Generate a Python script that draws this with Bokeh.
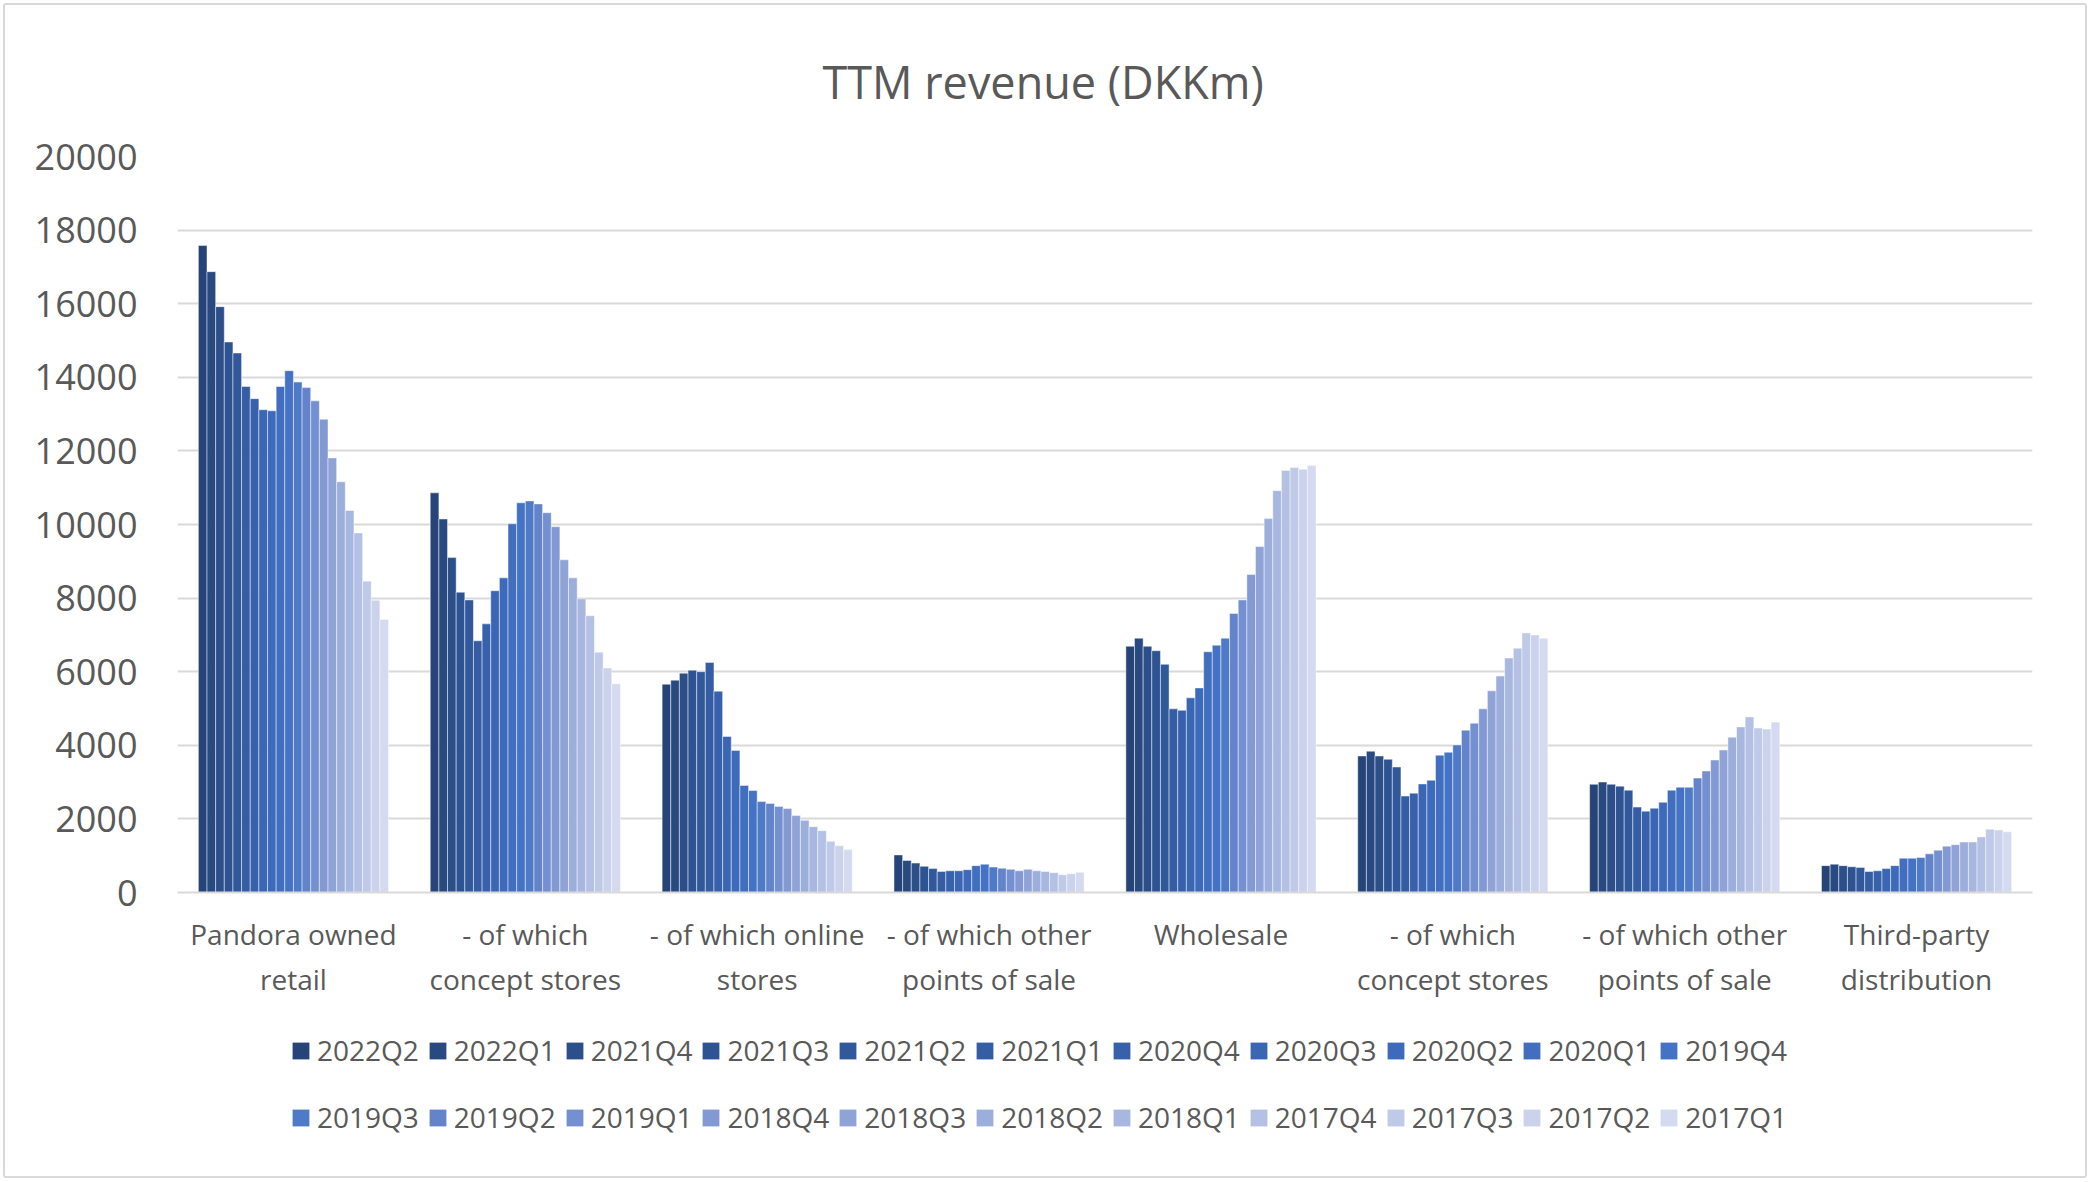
from bokeh.plotting import figure
from bokeh.models import Range1d, FixedTicker, Legend, LegendItem, ColumnDataSource, Title
from bokeh.layouts import column
from bokeh.embed import file_html
from bokeh.resources import INLINE

categories = ["Pandora owned\nretail", "- of which\nconcept stores", "- of which online\nstores",
              "- of which other\npoints of sale", "Wholesale", "- of which\nconcept stores",
              "- of which other\npoints of sale", "Third-party\ndistribution"]

series = ["2022Q2", "2022Q1", "2021Q4", "2021Q3", "2021Q2", "2021Q1", "2020Q4", "2020Q3",
          "2020Q2", "2020Q1", "2019Q4", "2019Q3", "2019Q2", "2019Q1", "2018Q4", "2018Q3",
          "2018Q2", "2018Q1", "2017Q4", "2017Q3", "2017Q2", "2017Q1"]

pandora_retail = [17580, 16870, 15920, 14960, 14660, 13750, 13420, 13120, 13090, 13750, 14180,
                  13870, 13720, 13360, 12860, 11810, 11160, 10380, 9770, 8460, 7940, 7420]
retail_concept = [10860, 10150, 9100, 8160, 7950, 6840, 7300, 8200, 8550, 10020, 10590,
                  10640, 10560, 10320, 9940, 9040, 8550, 7980, 7520, 6530, 6100, 5670]
retail_online = [5660, 5770, 5960, 6040, 6000, 6250, 5470, 4240, 3860, 2910, 2770,
                 2470, 2420, 2340, 2280, 2090, 1960, 1790, 1680, 1390, 1270, 1170]
retail_other = [1020, 870, 800, 710, 650, 570, 590, 590, 620, 730, 770,
                690, 660, 630, 590, 630, 590, 570, 540, 480, 510, 550]
wholesale = [6690, 6910, 6690, 6570, 6200, 4990, 4950, 5290, 5560, 6540, 6720,
             6910, 7580, 7950, 8640, 9400, 10160, 10920, 11470, 11550, 11500, 11600]
wholesale_concept = [3710, 3840, 3710, 3620, 3410, 2620, 2700, 2950, 3050, 3730, 3810,
                     4010, 4410, 4600, 4990, 5480, 5880, 6370, 6640, 7050, 7000, 6910]
wholesale_other = [2940, 3000, 2940, 2890, 2780, 2320, 2210, 2290, 2450, 2780, 2860,
                   2860, 3110, 3300, 3600, 3870, 4220, 4500, 4770, 4470, 4440, 4630]
third_party = [730, 770, 730, 700, 680, 570, 590, 650, 730, 930, 930,
               950, 1050, 1150, 1260, 1300, 1370, 1370, 1510, 1720, 1700, 1650]

y_ticks = [0, 2000, 4000, 6000, 8000, 10000, 12000, 14000, 16000, 18000, 20000]

colors = ["#264478", "#294A81", "#2C4F8A", "#2E5392", "#31589B", "#345DA3", "#3761AB",
          "#3A66B3", "#3D6ABB", "#416EBF", "#4472C4", "#4F7AC7", "#6384CB", "#7590D0",
          "#8299D3", "#8FA3D7", "#9CAEDC", "#A8B7E0", "#B4C0E4", "#BFC9E8", "#CAD2EC", "#D4DAF0"]

groups = [pandora_retail, retail_concept, retail_online, retail_other,
          wholesale, wholesale_concept, wholesale_other, third_party]

FONT = "Open Sans"
TXT = "#595959"
GRID = "#D9D9D9"

# ---- main chart ----
p = figure(width=2080, height=1005, output_backend="svg", toolbar_location=None,
           x_range=Range1d(0, len(categories)), y_range=Range1d(0, 20000),
           min_border_left=172, min_border_right=53, min_border_top=151, min_border_bottom=118)

p.title = Title(text="TTM revenue (DKKm)", align="left", offset=645, text_font=FONT,
                text_font_size="45px", text_font_style="normal", text_color=TXT,
                vertical_align="top", standoff=86)

n = len(series)
group_w = 0.82
bw = group_w / n
for j, s in enumerate(series):
    xs = [i + 0.5 + (j - (n - 1) / 2) * bw for i in range(len(categories))]
    ys = [g[j] for g in groups]
    src = ColumnDataSource(dict(x=xs, top=ys))
    p.vbar(x="x", top="top", width=bw, bottom=0, source=src, fill_color=colors[j],
           line_color="white", line_alpha=0.45, line_width=1)

p.xgrid.grid_line_color = None
p.ygrid.grid_line_color = GRID
p.ygrid.grid_line_width = 2
p.ygrid.ticker = FixedTicker(ticks=y_ticks)

p.yaxis.ticker = FixedTicker(ticks=y_ticks)
p.yaxis.axis_line_color = None
p.yaxis.major_tick_line_color = None
p.yaxis.minor_tick_line_color = None
p.yaxis.major_label_text_font = FONT
p.yaxis.major_label_text_font_size = "36px"
p.yaxis.major_label_text_color = TXT
p.yaxis.major_label_standoff = 34

p.xaxis.ticker = FixedTicker(ticks=[i + 0.5 for i in range(len(categories))])
p.xaxis.major_label_overrides = {i + 0.5: c for i, c in enumerate(categories)}
p.xaxis.axis_line_color = GRID
p.xaxis.axis_line_width = 2
p.xaxis.major_tick_line_color = None
p.xaxis.minor_tick_line_color = None
p.xaxis.major_label_text_font = FONT
p.xaxis.major_label_text_font_size = "28px"
p.xaxis.major_label_text_color = TXT
p.xaxis.major_label_standoff = 16

p.outline_line_color = None

# ---- legend strip (swatch renderers have zero height, so only the legend shows) ----
pl = figure(width=2080, height=166, output_backend="svg", toolbar_location=None,
            x_range=Range1d(0, 1), y_range=Range1d(0, 1),
            min_border_left=0, min_border_right=0, min_border_top=0, min_border_bottom=0)
pl.axis.visible = False
pl.grid.visible = False
pl.outline_line_color = None

legend_renderers = []
for j, s in enumerate(series):
    r = pl.vbar(x=[0.5], top=[0], width=0.01, bottom=0, fill_color=colors[j], line_color=None)
    legend_renderers.append(r)

for row, y_loc in ((0, 107), (1, 40)):
    items = [LegendItem(label=series[k], renderers=[legend_renderers[k]])
             for k in range(row * 11, row * 11 + 11)]
    leg = Legend(items=items, orientation="horizontal", location=(113, y_loc),
                 glyph_width=21, glyph_height=21, label_standoff=6, spacing=8,
                 label_text_font=FONT, label_text_font_size="28px", label_text_color=TXT,
                 border_line_color=None, background_fill_alpha=0, padding=4, margin=0)
    pl.add_layout(leg, "center")

layout = column(p, pl, spacing=0, margin=(3, 3, 3, 3),
                styles={"border": "2px solid #D9D9D9", "border-radius": "3px"})

open("out.html", "w").write(file_html(layout, INLINE))
